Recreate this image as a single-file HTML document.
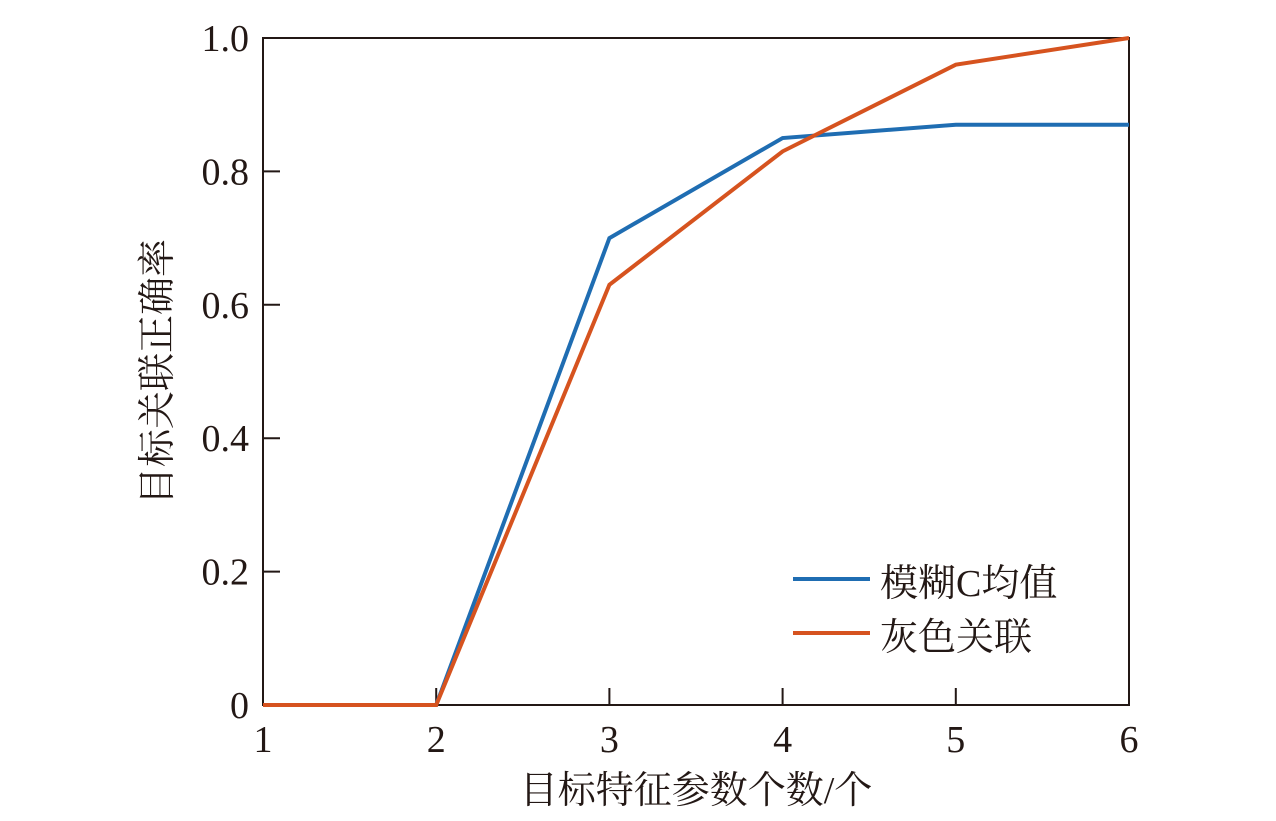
<!DOCTYPE html>
<html><head><meta charset="utf-8"><style>
body{margin:0;background:#fff}
svg text{font-family:"Liberation Serif","Noto Serif CJK SC",serif;fill:#231815}
</style></head><body>
<svg width="1276" height="816">
<g id="axes"></g><g id="series"></g>
<g>
<line x1="793" y1="579" x2="870" y2="579" stroke="#1f6db2" stroke-width="4"/>
<text x="880" y="596" font-size="38">模糊C均值</text>
<line x1="793" y1="633" x2="870" y2="633" stroke="#d6531f" stroke-width="4"/>
<text x="880" y="650" font-size="38">灰色关联</text>
</g>
<text x="696" y="803" font-size="38" text-anchor="middle">目标特征参数个数/个</text>
<text transform="translate(170,372) rotate(-90)" font-size="38" text-anchor="middle">目标关联正确率</text>
</svg>
<script>
const categories=[1,2,3,4,5,6];
const fcmValues=[0,0,0.70,0.85,0.87,0.87];
const greyValues=[0,0,0.63,0.83,0.96,1.0];
const yTicks=[0,0.2,0.4,0.6,0.8,1.0];
const yTickLabels=["0","0.2","0.4","0.6","0.8","1.0"];
const L=263,R=1129,T=38,B=705;
const xs=v=>L+(v-1)/5*(R-L);
const ys=v=>B-v*(B-T);
const NS="http://www.w3.org/2000/svg";
const ax=document.getElementById('axes'),se=document.getElementById('series');
function mk(tag,attrs,parent){const e=document.createElementNS(NS,tag);for(const k in attrs)e.setAttribute(k,attrs[k]);parent.appendChild(e);return e;}
const frame=mk('rect',{x:L,y:T,width:R-L,height:B-T,fill:'none',stroke:'#231815','stroke-width':2},ax);


categories.forEach(c=>{
 const t=mk('line',{x1:xs(c),x2:xs(c),y1:B,y2:B-17,stroke:'#231815','stroke-width':2},ax);
 
 
 const l=mk('text',{x:xs(c),y:B+47,'font-size':38,'text-anchor':'middle'},ax);l.textContent=c;
 
 
});
yTicks.forEach((v,i)=>{
 const t=mk('line',{x1:L,x2:L+17,y1:ys(v),y2:ys(v),stroke:'#231815','stroke-width':2},ax);
 
 
 const l=mk('text',{x:L-14,y:ys(v)+13,'font-size':38,'text-anchor':'end'},ax);l.textContent=yTickLabels[i];
 
 
});
function line(vals,color,name){
 const p=mk('polyline',{points:vals.map((v,i)=>xs(categories[i])+','+ys(v)).join(' '),fill:'none',stroke:color,'stroke-width':4,'stroke-linejoin':'miter'},se);
 
 
}
line(fcmValues,'#1f6db2','series-fcm');
line(greyValues,'#d6531f','series-grey');
</script>
</body></html>
